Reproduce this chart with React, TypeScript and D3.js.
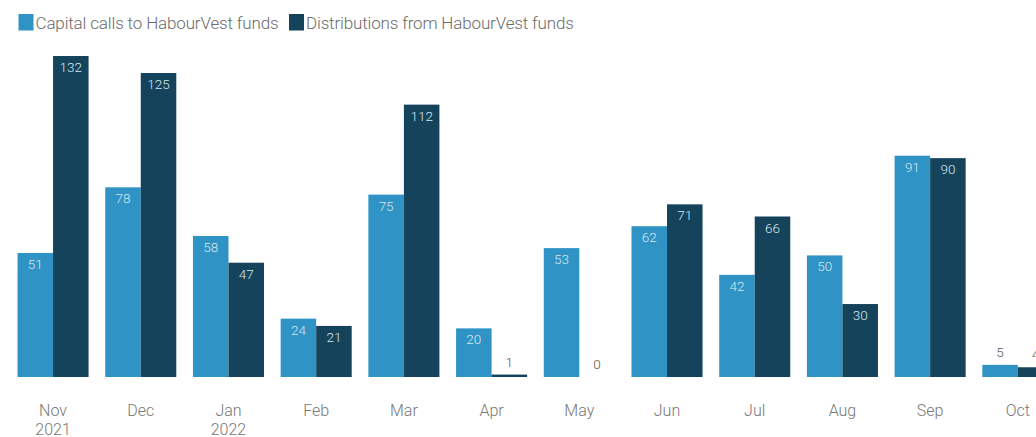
import React from "react";
import * as d3 from "d3";

const months = ["Nov", "Dec", "Jan", "Feb", "Mar", "Apr", "May", "Jun", "Jul", "Aug", "Sep", "Oct"];
const years = ["2021", "", "2022", "", "", "", "", "", "", "", "", ""];
const capitalCalls = [51, 78, 58, 24, 75, 20, 53, 62, 42, 50, 91, 5];
const distributions = [132, 125, 47, 21, 112, 1, 0, 71, 66, 30, 90, 4];
const seriesNames = ["Capital calls to HabourVest funds", "Distributions from HabourVest funds"];
const colors = ["#2f94c5", "#14435b"];

const width = 1036;
const height = 437;
const font = "Roboto, 'Noto Sans', sans-serif";

export default function App() {
  const x = d3
    .scaleBand<string>()
    .domain(months)
    .range([9.2, 1061.7])
    .paddingInner(0.19)
    .paddingOuter(0.095);

  const sub = d3
    .scaleBand<number>()
    .domain([0, 1])
    .range([0, x.bandwidth()]);

  const y = d3.scaleLinear().domain([0, 132]).range([377, 56]);

  const series = [capitalCalls, distributions];

  return (
    <svg
      width={width}
      height={height}
      style={{ position: "absolute", left: 0, top: 0, fontFamily: font }}
    >
      {/* legend */}
      <g fontSize={17} fontWeight={300} fill="#6b6b6b" letterSpacing={-0.15}>
        <rect x={18.5} y={14} width={15} height={16.5} fill={colors[0]} />
        <text x={35.5} y={28.5}>
          {seriesNames[0]}
        </text>
        <rect x={289} y={14} width={15} height={16.5} fill={colors[1]} />
        <text x={306} y={28.5}>
          {seriesNames[1]}
        </text>
      </g>

      {/* bars */}
      {series.map((vals, si) => (
        <g key={si} fill={colors[si]}>
          {vals.map((v, i) => {
            const bx = (x(months[i]) ?? 0) + (sub(si) ?? 0);
            const top = y(v);
            const inside = y(0) - top > 20;
            return (
              <g key={i}>
                <rect x={bx} y={top} width={sub.bandwidth()} height={y(0) - top} />
                <text
                  x={bx + sub.bandwidth() / 2}
                  y={inside ? top + 16 : top - 8}
                  textAnchor="middle"
                  fontSize={13.5}
                  fontWeight={300}
                  fill={inside ? "#d6e6ef" : "#555"}
                >
                  {v}
                </text>
              </g>
            );
          })}
        </g>
      ))}

      {/* x axis labels */}
      {months.map((m, i) => {
        const cx = (x(m) ?? 0) + x.bandwidth() / 2;
        return (
          <g key={m} fontSize={16} fontWeight={300} fill="#777" textAnchor="middle">
            <text x={cx} y={416}>
              {m}
            </text>
            {years[i] && (
              <text x={cx} y={435}>
                {years[i]}
              </text>
            )}
          </g>
        );
      })}
    </svg>
  );
}
